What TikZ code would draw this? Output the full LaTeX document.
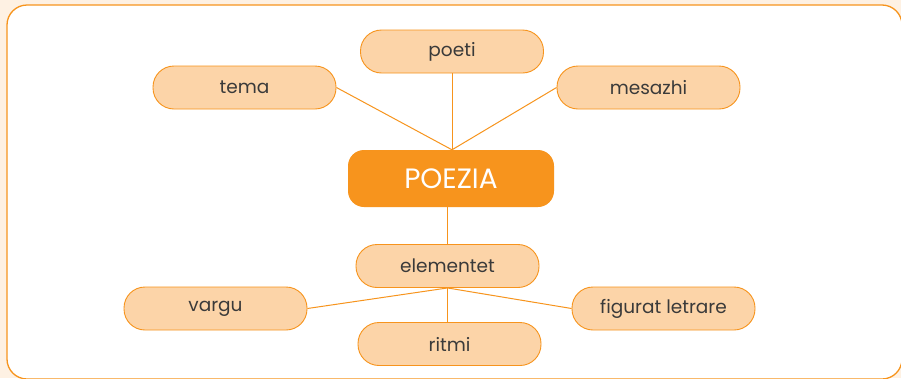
\documentclass[tikz,border=0pt]{standalone}
\usepackage{fontspec}
\setmainfont{Poppins}
\definecolor{portokalli}{HTML}{F7941D}
\definecolor{pjeshke}{HTML}{FCD4A8}
\definecolor{krem}{HTML}{FEF1E3}
\definecolor{teksti}{HTML}{3A3A3A}
\tikzset{
  kutia/.style={draw=portokalli, line width=0.9pt, fill=pjeshke, rounded corners=21pt,
    minimum width=183pt, minimum height=43pt, text=teksti, inner sep=0pt,
    font=\fontsize{18.5}{20}\selectfont},
  qendra/.style={fill=portokalli, rounded corners=16pt, minimum width=206pt,
    minimum height=57pt, text=white, inner sep=0pt, font=\fontsize{28}{32}\selectfont},
  lidhja/.style={portokalli, line width=1pt}
}
\begin{document}
\begin{tikzpicture}[x=1pt,y=-1pt]
\useasboundingbox (0,0) rectangle (901,378);
\fill[krem] (0,0) rectangle (901,378);
\begin{scope}
\clip (0,0) rectangle (901,378);
\draw[portokalli, line width=1.3pt, fill=white, rounded corners=20pt] (7,5) rectangle (902,379);
\end{scope}
% nyjet
\node[qendra] (poezia) at (451,178.5) {POEZIA};
\node[kutia] (tema) at (244.5,87.5) {tema};
\node[kutia] (poeti) at (452,51.5) {poeti};
\node[kutia] (mesazhi) at (648.5,87.5) {mesazhi};
\node[kutia] (elementet) at (447.5,266) {elementet};
\node[kutia] (vargu) at (215.5,308.5) {vargu};
\node[kutia] (ritmi) at (449.5,344) {ritmi};
\node[kutia] (figurat) at (663.5,308.5) {figurat letrare};
\coordinate (lart) at (poezia.north -| poeti.south);
\coordinate (poshte) at (poezia.south -| elementet.north);
% lidhjet
\draw[lidhja] (tema.east)--(lart);
\draw[lidhja] (poeti.south)--(lart);
\draw[lidhja] (mesazhi.west)--(lart);
\draw[lidhja] (poshte)--(elementet.north);
\draw[lidhja] (elementet.south)--(vargu.east);
\draw[lidhja] (elementet.south)--(ritmi.north -| elementet.south);
\draw[lidhja] (elementet.south)--(figurat.west);
\end{tikzpicture}
\end{document}
